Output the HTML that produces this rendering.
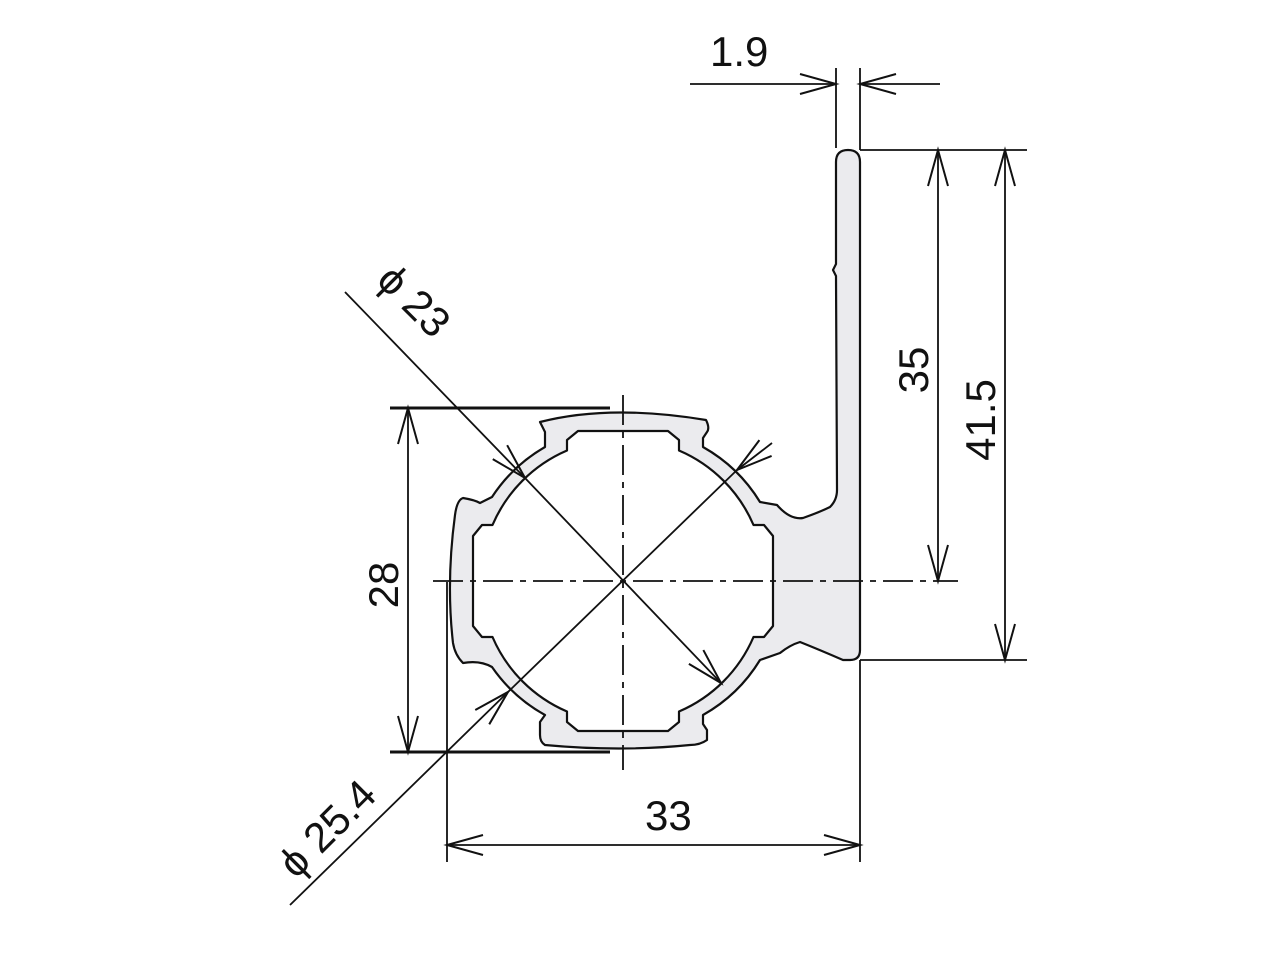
<!DOCTYPE html>
<html><head><meta charset="utf-8"><style>
html,body{margin:0;padding:0;background:#fff;}
svg{display:block;}
text{font-family:"Liberation Sans",sans-serif;font-size:42px;fill:#111;}
</style></head><body>
<svg width="1280" height="960" viewBox="0 0 1280 960" xmlns="http://www.w3.org/2000/svg">
<defs>
<marker id="a" markerUnits="userSpaceOnUse" markerWidth="40" markerHeight="24" refX="0" refY="0" viewBox="-38 -12 40 24" orient="auto-start-reverse" overflow="visible">
<path d="M-36,-10 L0,0 L-36,10" fill="none" stroke="#111" stroke-width="2"/>
</marker>
</defs>
<path d="M540,422 Q610,404 706,420 Q710,428 707,432 L703,438 L703,447
A157 157 0 0 1 760,502 L777,505 Q790,520 803,518 Q820,512 830,507 Q837,500 837,490 L836,276 L833,270 L836,264 L836,162 Q836,150 848,150 Q860,150 860,162 L860,650 Q860,660 850,660 L843,660 Q820,650 800,642 Q790,645 780,653 L760,660
A157 157 0 0 1 703,715 L703,724 L707,730 L707,740 Q700,745 690,745 Q620,752 545,745 Q540,742 540,735 L540,722 L545,715
A157 157 0 0 1 492,667 Q480,660 463,663 Q455,655 453,643 Q446,582 455,515 Q457,500 463,498 Q475,500 480,503 L492,497
A157 157 0 0 1 545,447 L545,432 Z" fill="#ebebee" stroke="#111" stroke-width="2.2" stroke-linejoin="round"/>
<g transform="translate(623,581)">
<path d="M56,-130.5 L56,-141 L45,-150 L-45,-150 L-56,-141 L-56,-130.5 A142 142 0 0 0 -130.5,-56 L-141,-56 L-150,-45 L-150,45 L-141,56 L-130.5,56 A142 142 0 0 0 -56,130.5 L-56,141 L-45,150 L45,150 L56,141 L56,130.5 A142 142 0 0 0 130.5,56 L141,56 L150,45 L150,-45 L141,-56 L130.5,-56 A142 142 0 0 0 56,-130.5 Z" fill="#fff" stroke="#111" stroke-width="2.2" stroke-linejoin="round"/>
</g>
<g stroke="#111" stroke-width="1.8" fill="none">
<line x1="433" y1="581" x2="958" y2="581" stroke-dasharray="30,7,6,7"/>
<line x1="623" y1="395" x2="623" y2="770" stroke-dasharray="30,7,6,7"/>
<line x1="836" y1="68" x2="836" y2="148"/>
<line x1="860" y1="68" x2="860" y2="150"/>
<line x1="690" y1="84" x2="836" y2="84" marker-end="url(#a)"/>
<line x1="940" y1="84" x2="860" y2="84" marker-end="url(#a)"/>
<line x1="860" y1="150" x2="1027" y2="150"/>
<line x1="860" y1="660" x2="1027" y2="660"/>
<line x1="938" y1="150" x2="938" y2="581" marker-start="url(#a)" marker-end="url(#a)"/>
<line x1="1005" y1="150" x2="1005" y2="660" marker-start="url(#a)" marker-end="url(#a)"/>
<line x1="390" y1="408" x2="610" y2="408" stroke-width="3"/>
<line x1="390" y1="752" x2="610" y2="752" stroke-width="3"/>
<line x1="408" y1="408" x2="408" y2="752" marker-start="url(#a)" marker-end="url(#a)"/>
<line x1="447" y1="582" x2="447" y2="862"/>
<line x1="860" y1="660" x2="860" y2="862"/>
<line x1="447" y1="845" x2="860" y2="845" marker-start="url(#a)" marker-end="url(#a)"/>
<line x1="345" y1="292" x2="525" y2="478" marker-end="url(#a)"/>
<line x1="525" y1="478" x2="721" y2="683" marker-end="url(#a)"/>
<line x1="290" y1="905" x2="508" y2="692" marker-end="url(#a)"/>
<line x1="508" y1="692" x2="737" y2="470"/>
<line x1="772" y1="443" x2="737" y2="470" marker-end="url(#a)"/>
</g>
<text x="710" y="66">1.9</text>
<text x="645" y="830">33</text>
<text transform="translate(398,585) rotate(-90)" text-anchor="middle">28</text>
<text transform="translate(928,370) rotate(-90)" text-anchor="middle">35</text>
<text transform="translate(995,420) rotate(-90)" text-anchor="middle">41.5</text>
<text transform="translate(375,282) rotate(45)">ϕ 23</text>
<text transform="translate(296,880) rotate(-45)">ϕ 25.4</text>
</svg>
</body></html>
